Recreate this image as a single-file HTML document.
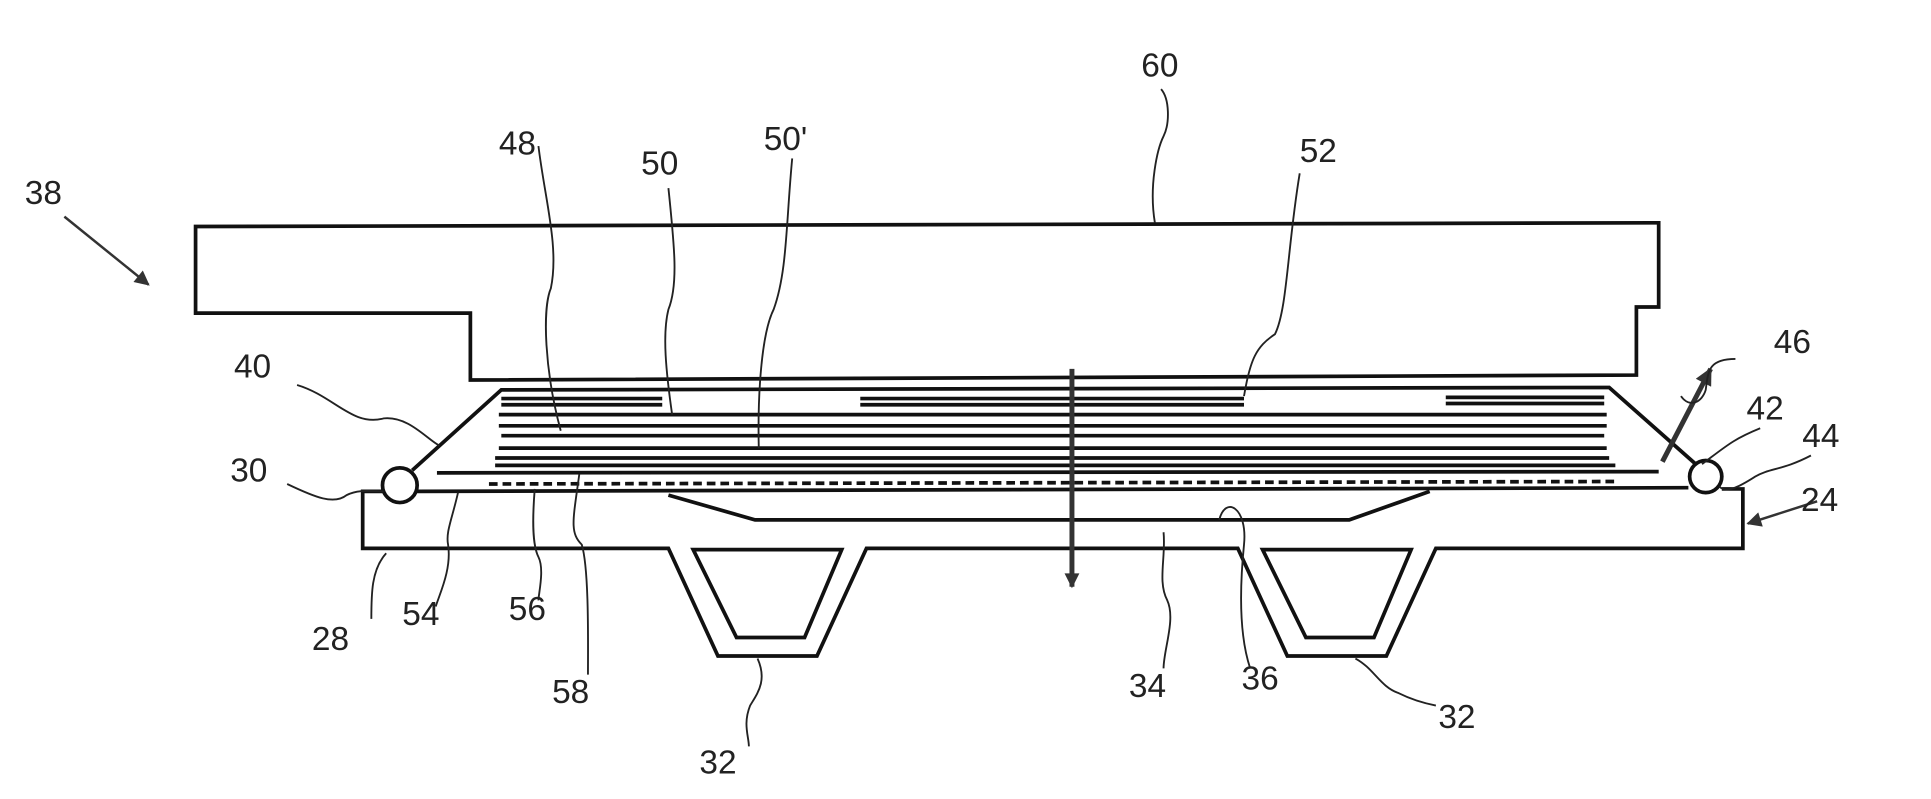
<!DOCTYPE html>
<html><head><meta charset="utf-8"><style>
html,body{margin:0;padding:0;background:#fff;}
svg{display:block;}
text{font-family:"Liberation Sans",sans-serif;font-size:27px;fill:#222;}
</style></head><body>
<svg width="1931" height="799" viewBox="0 0 1560 645.5" preserveAspectRatio="none" xmlns="http://www.w3.org/2000/svg">
<defs>
<marker id="ah" viewBox="0 0 10 10" refX="9" refY="5" markerWidth="16" markerHeight="12" markerUnits="userSpaceOnUse" orient="auto-start-reverse"><path d="M0,0 L10,5 L0,10 Z" fill="#333"/></marker>
<marker id="ah2" viewBox="0 0 10 10" refX="9" refY="5" markerWidth="20" markerHeight="14" markerUnits="userSpaceOnUse" orient="auto-start-reverse"><path d="M0,0 L10,5 L0,10 Z" fill="#333"/></marker>
</defs>
<g fill="none" stroke="#111" stroke-width="3">
<path d="M158,183 L1340,180 L1340,248 L1322,248 L1322,303 L380,307 L380,253 L158,253 Z"/>
<path d="M333,380 L405,315 L1300,313 L1370,375"/>
<circle cx="323" cy="392" r="14"/>
<circle cx="1378" cy="385" r="13"/>
<path d="M309,397 L293,397 L293,443 L540,443 L580,530 L660,530 L700,443 L1000,443 L1040,530 L1120,530 L1160,443 L1408,443 L1408,395 L1391,395"/>
<path d="M337,397 L1364,394"/>
<path d="M540,400 L610,420 L1090,420 L1155,397"/>
<path d="M560,444 L680,444 L650,515 L595,515 Z"/>
<path d="M1020,444 L1140,444 L1110,515 L1055,515 Z"/>
</g>
<g stroke="#111" stroke-width="3">
<line x1="405" y1="322" x2="535" y2="322"/><line x1="405" y1="327" x2="535" y2="327"/>
<line x1="695" y1="322" x2="1005" y2="322"/><line x1="695" y1="327" x2="1005" y2="327"/>
<line x1="1168" y1="321" x2="1296" y2="321"/><line x1="1168" y1="326" x2="1296" y2="326"/>
<line x1="403" y1="335" x2="1298" y2="335"/>
<line x1="403" y1="344" x2="1298" y2="344"/>
<line x1="405" y1="352" x2="1296" y2="352"/>
<line x1="403" y1="362" x2="1298" y2="362"/>
<line x1="400" y1="370" x2="1300" y2="370"/>
<line x1="400" y1="376" x2="1305" y2="376"/>
<line x1="353" y1="382" x2="1340" y2="381"/>
<line x1="395" y1="391" x2="1305" y2="389" stroke-dasharray="7,4"/>
</g>
<line x1="866" y1="298" x2="866" y2="474" stroke="#333" stroke-width="4" marker-end="url(#ah)"/>
<line x1="1343" y1="373" x2="1382" y2="298" stroke="#333" stroke-width="4" marker-end="url(#ah2)"/>
<line x1="52" y1="175" x2="120" y2="230" stroke="#333" stroke-width="2" marker-end="url(#ah)"/>
<line x1="1468" y1="405" x2="1412" y2="423" stroke="#333" stroke-width="2" marker-end="url(#ah)"/>
<g fill="none" stroke="#222" stroke-width="1.5">
<path d="M933,180 C928,150 935,120 940,110 C945,100 945,80 938,72"/>
<path d="M435,118 C440,160 452,200 445,233 C438,250 440,300 453,348"/>
<path d="M540,152 C545,200 548,230 540,250 C535,270 538,300 543,335"/>
<path d="M640,128 C635,180 636,220 625,250 C615,270 612,320 613,362"/>
<path d="M1050,140 C1040,200 1040,250 1030,270 C1015,280 1010,290 1005,320"/>
<path d="M240,311 C270,320 285,345 310,338 C330,336 345,355 355,360"/>
<path d="M232,391 C255,402 270,408 280,400 C290,395 300,397 310,397"/>
<path d="M1402,290 C1380,290 1380,300 1378,315 C1375,325 1365,330 1358,320"/>
<path d="M1422,346 C1400,355 1395,360 1375,375"/>
<path d="M1463,368 C1440,380 1430,378 1418,385 C1410,390 1395,400 1389,393"/>
<path d="M312,447 C300,460 300,480 300,500"/>
<path d="M370,398 C365,420 360,430 362,440 C365,460 355,480 352,490"/>
<path d="M432,395 C430,420 430,440 435,450 C440,460 435,480 435,485"/>
<path d="M468,383 C463,420 460,430 470,440 C476,460 475,520 475,545"/>
<path d="M612,532 C620,550 612,560 606,570 C600,585 605,595 605,603"/>
<path d="M940,430 C942,450 935,470 943,485 C950,500 940,525 940,540"/>
<path d="M985,420 C990,400 1008,410 1005,440 C1002,470 1000,510 1010,540"/>
<path d="M1095,532 C1110,540 1115,555 1130,560 C1140,565 1150,568 1160,570"/>
</g>
<g>
<text x="922" y="62">60</text>
<text x="403" y="125">48</text>
<text x="518" y="141">50</text>
<text x="617" y="121">50'</text>
<text x="1050" y="131">52</text>
<text x="20" y="165">38</text>
<text x="189" y="305">40</text>
<text x="186" y="389">30</text>
<text x="252" y="525">28</text>
<text x="325" y="505">54</text>
<text x="411" y="501">56</text>
<text x="446" y="568">58</text>
<text x="565" y="625">32</text>
<text x="912" y="563">34</text>
<text x="1003" y="557">36</text>
<text x="1162" y="588">32</text>
<text x="1433" y="285">46</text>
<text x="1411" y="339">42</text>
<text x="1456" y="361">44</text>
<text x="1455" y="413">24</text>
</g>
</svg>
</body></html>
